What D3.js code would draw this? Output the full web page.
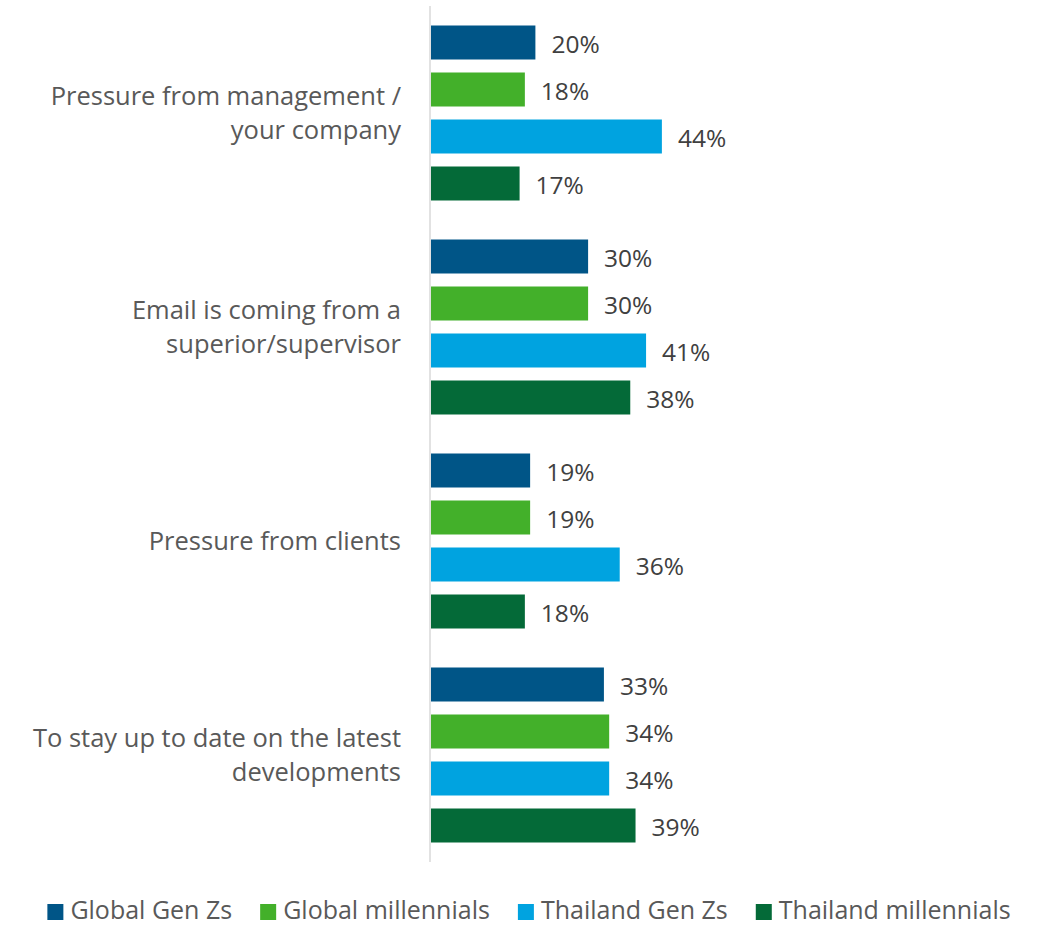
<!DOCTYPE html>
<html>
<head>
<meta charset="utf-8">
<script src="https://cdn.jsdelivr.net/npm/d3@7"></script>
<style>
  html, body { margin: 0; padding: 0; background: #fff; }
  svg { display: block; }
  text { font-family: "Open Sans", sans-serif; }
</style>
</head>
<body>
<svg id="chart" width="1038" height="927"></svg>
<script>
const categories = [
  ["Pressure from management /", "your company"],
  ["Email is coming from a", "superior/supervisor"],
  ["Pressure from clients"],
  ["To stay up to date on the latest", "developments"]
];
const seriesNames = ["Global Gen Zs", "Global millennials", "Thailand Gen Zs", "Thailand millennials"];
const seriesColors = ["#005587", "#43B02A", "#00A3E0", "#046A38"];
const globalGenZs = [20, 30, 19, 33];
const globalMillennials = [18, 30, 19, 34];
const thailandGenZs = [44, 41, 36, 34];
const thailandMillennials = [17, 38, 18, 39];
const seriesValues = [globalGenZs, globalMillennials, thailandGenZs, thailandMillennials];

const svg = d3.select("#chart");
const valueFont = 24.5, catFont = 25.5, legendFont = 25;

const plotLeft = 430, plotTop = 6, plotBottom = 862;
const x = d3.scaleLinear().domain([0, 50]).range([plotLeft, plotLeft + 263.5]);
const y0 = d3.scaleBand().domain(d3.range(categories.length)).range([plotTop, plotBottom]).paddingInner(0).paddingOuter(0);
const groupInner = 175;
const y1 = d3.scaleBand().domain(d3.range(seriesNames.length)).range([0, groupInner]).paddingInner(13/47).paddingOuter(0);
const groupPad = (y0.bandwidth() - groupInner) / 2;

svg.append("line")
  .attr("x1", plotLeft).attr("x2", plotLeft)
  .attr("y1", plotTop).attr("y2", plotBottom)
  .attr("stroke", "#d9d9d9").attr("stroke-width", 1.5);

const groups = svg.selectAll("g.grp").data(categories).join("g")
  .attr("class", "grp")
  .attr("transform", (d, i) => `translate(0,${y0(i) + groupPad})`);

groups.each(function(cat, ci) {
  const g = d3.select(this);
  seriesValues.forEach((vals, si) => {
    const v = vals[ci];
    g.append("rect")
      .attr("x", x(0) + 1)
      .attr("y", y1(si))
      .attr("width", x(v) - x(0) - 1)
      .attr("height", y1.bandwidth())
      .attr("fill", seriesColors[si]);
    g.append("text")
      .attr("x", x(v) + 16)
      .attr("y", y1(si) + y1.bandwidth() / 2 + 10)
      .attr("font-size", valueFont)
      .attr("fill", "#404040")
      .text(v + "%");
  });
});

const lineH = 34;
categories.forEach((lines, ci) => {
  const cy = y0(ci) + y0.bandwidth() / 2;
  const t = svg.append("text")
    .attr("text-anchor", "end")
    .attr("font-size", catFont)
    .attr("fill", "#595959");
  lines.forEach((ln, li) => {
    t.append("tspan")
      .attr("x", 401)
      .attr("y", cy + (li - (lines.length - 1) / 2) * lineH + 9)
      .text(ln);
  });
});

const legend = svg.append("g");
const sq = 16, sqGap = 7, itemGap = 28;
let cursor = 0;
seriesNames.forEach((name, i) => {
  const g = legend.append("g");
  g.append("rect").attr("x", 0).attr("y", -sq / 2).attr("width", sq).attr("height", sq).attr("fill", seriesColors[i]);
  const t = g.append("text").attr("x", sq + sqGap).attr("y", 7)
    .attr("font-size", legendFont).attr("fill", "#595959").text(name);
  const w = sq + sqGap + t.node().getComputedTextLength();
  g.attr("transform", `translate(${cursor},0)`);
  cursor += w + itemGap;
});
const totalW = cursor - itemGap;
legend.attr("transform", `translate(${529 - totalW / 2},912)`);
</script>
</body>
</html>
